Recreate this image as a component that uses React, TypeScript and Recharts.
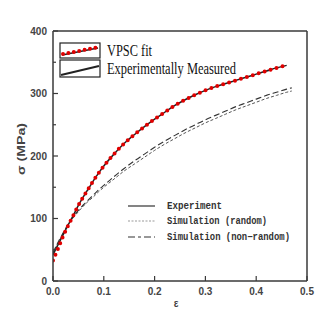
import { Legend, Line, LineChart, XAxis, YAxis } from 'recharts';

// strain grid (ε) and stress readings (MPa)
const strainPts = [
  0, 0.01, 0.02, 0.03, 0.04, 0.05, 0.06, 0.07, 0.08, 0.09, 0.1, 0.12, 0.14, 0.16, 0.18, 0.2,
  0.22, 0.24, 0.26, 0.28, 0.3, 0.32, 0.34, 0.36, 0.38, 0.4, 0.42, 0.44, 0.46,
];
const vpscFit = [
  33, 52, 72, 89, 105, 121, 135, 148, 161, 173, 184, 203, 220, 234, 247, 259, 270, 281, 290,
  298, 305, 311, 316, 321, 326, 331, 336, 341, 345,
];
const experiment = [
  42, 58, 74, 90, 105, 121, 135, 148, 161, 173, 184, 203, 220, 234, 247, 259, 270, 281, 290,
  298, 305, 311, 316, 321, 326, 331, 336, 341, 345,
];
const simStrain = [...strainPts, 0.47];
const simNonRandom = [
  45, 62, 77, 91, 103, 113, 122, 130, 138, 146, 153, 167, 180, 192, 203, 214, 224, 233, 242,
  250, 258, 265, 272, 279, 285, 291, 297, 302, 307, 309,
];
const simRandom = [
  45, 61, 76, 90, 101, 111, 120, 128, 135, 143, 150, 163, 176, 187, 198, 209, 219, 228, 237,
  245, 253, 260, 267, 274, 280, 286, 292, 297, 302, 304,
];

const xTicks = [0, 0.05, 0.1, 0.15, 0.2, 0.25, 0.3, 0.35, 0.4, 0.45, 0.5];
const yTicks = [0, 50, 100, 150, 200, 250, 300, 350, 400];

const topLegend = ['VPSC fit', 'Experimentally Measured'];
const innerLegend = ['Experiment', 'Simulation (random)', 'Simulation (non\u2212random)'];

const toRows = (xs: number[], ys: number[]) => xs.map((e, i) => ({ strain: e, stress: ys[i] }));

const W = 332;
const H = 315;
const AXIS = '#3a3a3a';
const tickFont = { fontFamily: 'Liberation Sans, Arial, sans-serif', fontWeight: 700, fontSize: 10, fill: '#444' };

const isMajorX = (v: number) => Math.round(v * 100) % 10 === 0;
const isMajorY = (v: number) => v % 100 === 0;

function BottomTick({ x, y, payload }: any) {
  const major = isMajorX(payload.value);
  return (
    <g>
      <line x1={x} y1={y} x2={x} y2={y - (major ? 5 : 3)} stroke={AXIS} strokeWidth={1.2} />
      {major && (
        <text x={x} y={y + 14} textAnchor="middle" {...tickFont}>
          {payload.value.toFixed(1)}
        </text>
      )}
    </g>
  );
}

function TopTick({ x, y }: any) {
  return <line x1={x} y1={y} x2={x} y2={y + 3.5} stroke={AXIS} strokeWidth={1.2} />;
}

function LeftTick({ x, y, payload }: any) {
  const major = isMajorY(payload.value);
  return (
    <g>
      <line x1={x} y1={y} x2={x + (major ? 5 : 3)} y2={y} stroke={AXIS} strokeWidth={1.2} />
      {major && (
        <text x={x - 6} y={y} textAnchor="end" dominantBaseline="central" {...tickFont}>
          {payload.value}
        </text>
      )}
    </g>
  );
}

function RightTick({ x, y }: any) {
  return <line x1={x} y1={y} x2={x - 3.5} y2={y} stroke={AXIS} strokeWidth={1.2} />;
}

function XLabel({ viewBox }: any) {
  return (
    <text x={viewBox.x + viewBox.width / 2 - 4} y={viewBox.y + 26} textAnchor="middle" {...tickFont}>
      ε
    </text>
  );
}

function YLabel() {
  const cx = 21;
  const cy = 149;
  return (
    <text
      x={cx}
      y={cy}
      transform={`rotate(-90 ${cx} ${cy})`}
      textAnchor="middle"
      dominantBaseline="central"
      textLength={52}
      lengthAdjust="spacingAndGlyphs"
      {...tickFont}
      fontSize={10}
    >
      σ (MPa)
    </text>
  );
}

function Legends() {
  const serif = { fontFamily: 'Liberation Serif, Times New Roman, serif', fontSize: 16, fill: '#111' };
  const mono = { fontFamily: 'Liberation Mono, Courier New, monospace', fontWeight: 700, fontSize: 10, fill: '#333' };
  const innerLens = [55, 100, 123];
  return (
    <svg width={W} height={H}>
      {/* top-left legend */}
      <rect x={60} y={43} width={40} height={15} fill="#fff" stroke="#222" strokeWidth={1.2} />
      <line x1={62} y1={55} x2={98} y2={48} stroke="#222" strokeWidth={1.4} />
      <line x1={63} y1={54} x2={97} y2={47.5} stroke="#e00000" strokeWidth={4} strokeLinecap="round" strokeDasharray="0 5.5" />
      <rect x={60} y={60} width={40} height={17} fill="#fff" stroke="#222" strokeWidth={1.2} />
      <line x1={61} y1={75} x2={99} y2={66} stroke="#222" strokeWidth={2} />
      <text x={107} y={56} textLength={45} lengthAdjust="spacingAndGlyphs" {...serif}>
        {topLegend[0]}
      </text>
      <text x={107} y={74} textLength={129} lengthAdjust="spacingAndGlyphs" {...serif}>
        {topLegend[1]}
      </text>

      {/* inner legend */}
      <line x1={128} y1={206} x2={155} y2={206} stroke="#333" strokeWidth={1.2} />
      <line x1={128} y1={221} x2={155} y2={221} stroke="#999" strokeWidth={1.2} strokeDasharray="2 1.5" />
      <line x1={128} y1={237} x2={155} y2={237} stroke="#333" strokeWidth={1.2} strokeDasharray="7 3 3 3" />
      {innerLegend.map((t, i) => (
        <text
          key={t}
          x={167}
          y={[206, 221, 237][i]}
          dominantBaseline="central"
          textLength={innerLens[i]}
          lengthAdjust="spacingAndGlyphs"
          {...mono}
        >
          {t}
        </text>
      ))}
    </svg>
  );
}

export default function App() {
  return (
    <div style={{ position: 'absolute', left: 0, top: 0, width: W, height: H, background: '#fff' }}>
      <LineChart width={W} height={H} margin={{ top: 26, right: 20, bottom: 0, left: 0 }}>
        <XAxis
          dataKey="strain"
          type="number"
          domain={[0, 0.5]}
          ticks={xTicks}
          height={34}
          tickSize={0}
          tickMargin={0}
          tick={<BottomTick />}
          tickLine={false}
          stroke={AXIS}
          strokeWidth={1.5}
          allowDataOverflow
          label={<XLabel />}
        />
        <XAxis
          xAxisId="top"
          orientation="top"
          dataKey="strain"
          type="number"
          domain={[0, 0.5]}
          ticks={xTicks}
          height={5}
          tickSize={0}
          tickMargin={0}
          tick={<TopTick />}
          tickLine={false}
          stroke={AXIS}
          strokeWidth={1.5}
        />
        <YAxis
          type="number"
          domain={[0, 400]}
          ticks={yTicks}
          width={53}
          tickSize={0}
          tickMargin={0}
          tick={<LeftTick />}
          tickLine={false}
          stroke={AXIS}
          strokeWidth={1.5}
          label={<YLabel />}
        />
        <YAxis
          yAxisId="right"
          orientation="right"
          type="number"
          domain={[0, 400]}
          ticks={yTicks}
          width={5}
          tickSize={0}
          tickMargin={0}
          tick={<RightTick />}
          tickLine={false}
          stroke={AXIS}
          strokeWidth={1.5}
        />
        <Legend
          layout="horizontal"
          verticalAlign="middle"
          align="center"
          content={<Legends />}
          wrapperStyle={{ left: 0, top: 0, width: W, height: H, pointerEvents: 'none' }}
        />
        <Line
          data={toRows(simStrain, simRandom)}
          dataKey="stress"
          name="Simulation (random)"
          type="monotone"
          stroke="#555"
          strokeWidth={1}
          strokeDasharray="3 2"
          dot={false}
          isAnimationActive={false}
          legendType="none"
        />
        <Line
          data={toRows(simStrain, simNonRandom)}
          dataKey="stress"
          name="Simulation (non-random)"
          type="monotone"
          stroke="#333"
          strokeWidth={1.1}
          strokeDasharray="6 3"
          dot={false}
          isAnimationActive={false}
          legendType="none"
        />
        <Line
          data={toRows(strainPts, experiment)}
          dataKey="stress"
          name="Experimentally Measured"
          type="monotone"
          stroke="#222"
          strokeWidth={1.5}
          dot={false}
          isAnimationActive={false}
        />
        <Line
          data={toRows(strainPts, vpscFit)}
          dataKey="stress"
          name="VPSC fit"
          type="monotone"
          stroke="#e00000"
          strokeWidth={4}
          strokeLinecap="round"
          strokeDasharray="0 6.2"
          dot={false}
          isAnimationActive={false}
        />
      </LineChart>
    </div>
  );
}
